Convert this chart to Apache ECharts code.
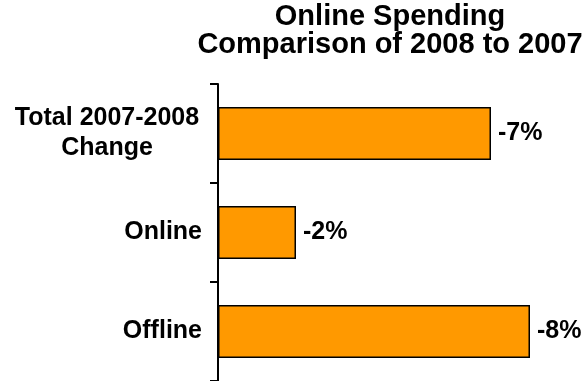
<!DOCTYPE html>
<html>
<head>
<meta charset="utf-8">
<script src="https://cdn.jsdelivr.net/npm/echarts@6/dist/echarts.min.js"></script>
<style>
  html, body { margin: 0; padding: 0; background: #fff; }
  #chart { width: 584px; height: 381px; }
</style>
</head>
<body>
<div id="chart"></div>
<script>
// Year-over-year change in spending, by channel (percent)
const categories = ['Total 2007-2008\nChange', 'Online', 'Offline'];
const changePct = [-7, -2, -8];
const axisMin = -8;
const axisMax = 0;

const FONT = '"Liberation Sans", Arial, Helvetica, sans-serif';
const LABEL_SIZE = 25;

const chart = echarts.init(document.getElementById('chart'), null, { renderer: 'canvas' });

chart.setOption({
  backgroundColor: '#ffffff',
  animation: false,
  title: {
    text: 'Online Spending\nComparison of 2008 to 2007',
    left: 385,
    top: -2,
    textAlign: 'center',
    textStyle: {
      fontFamily: FONT,
      fontWeight: 'bold',
      fontSize: 29,
      lineHeight: 28,
      color: '#000'
    }
  },
  grid: {
    left: 218,
    right: 54,
    top: 84,
    height: 300,
    containLabel: false
  },
  xAxis: {
    type: 'value',
    min: axisMin,
    max: axisMax,
    inverse: true,
    show: false
  },
  yAxis: {
    type: 'category',
    data: categories,
    inverse: true,
    axisLine: { show: true, lineStyle: { color: '#000', width: 2 } },
    axisTick: { show: true, length: 8, lineStyle: { color: '#000', width: 2 } },
    splitLine: { show: false },
    axisLabel: {
      margin: 16,
      color: '#000',
      fontFamily: FONT,
      fontWeight: 'bold',
      fontSize: LABEL_SIZE,
      lineHeight: 30,
      // multi-line names get each line centred inside a fixed-width box
      formatter: function (val) {
        if (val.indexOf('\n') < 0) return val;
        return val.split('\n').map(function (line) { return '{c|' + line + '}'; }).join('\n');
      },
      rich: {
        c: {
          width: 190,
          align: 'center',
          color: '#000',
          fontFamily: FONT,
          fontWeight: 'bold',
          fontSize: LABEL_SIZE,
          lineHeight: 30
        }
      }
    }
  },
  series: [{
    type: 'bar',
    data: changePct,
    barWidth: 53,
    itemStyle: {
      color: '#FF9900',
      borderColor: '#000',
      borderWidth: 1.5
    },
    label: {
      show: true,
      position: 'right',
      distance: 7,
      formatter: '{c}%',
      color: '#000',
      fontFamily: FONT,
      fontWeight: 'bold',
      fontSize: LABEL_SIZE
    }
  }]
});
</script>
</body>
</html>
